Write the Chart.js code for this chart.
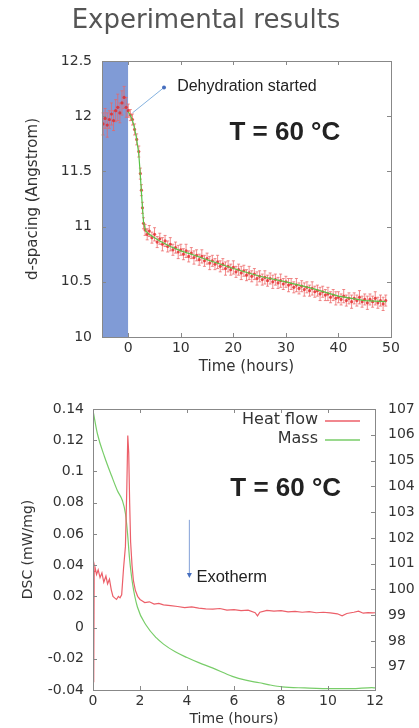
<!DOCTYPE html>
<html>
<head>
<meta charset="utf-8">
<script src="https://cdn.jsdelivr.net/npm/chart.js@4.4.1/dist/chart.umd.min.js"></script>
<style>
    body { margin: 0; background: #fff; }
    #topChart { position: absolute; left: 0; top: 0; }
    #bottomChart { position: absolute; left: 0; top: 385px; }
</style>
</head>
<body>
<canvas id="topChart" width="419" height="385"></canvas>
<canvas id="bottomChart" width="419" height="343"></canvas>
<script>
// top panel: d-spacing vs time
const dTimes = [-4.8, -4.4, -4.0, -3.6, -3.2, -2.8, -2.4, -2.0, -1.6, -1.2, -0.8, -0.4, 0.0,
    0.4, 0.8, 1.2, 1.6, 2.0, 2.3, 2.5, 2.7, 2.9, 3.2, 3.6, 4.0, 4.5, 5.0, 5.5, 6.0, 6.5, 7.0, 7.5, 8.0, 8.5, 9.0, 9.5,
    10.0, 10.5, 11.0, 11.5, 12.0, 12.5, 13.0, 13.5, 14.0, 14.5, 15.0, 15.5, 16.0, 16.5, 17.0, 17.5, 18.0, 18.5, 19.0, 19.5,
    20.0, 20.5, 21.0, 21.5, 22.0, 22.5, 23.0, 23.5, 24.0, 24.5, 25.0, 25.5, 26.0, 26.5, 27.0, 27.5, 28.0, 28.5, 29.0, 29.5,
    30.0, 30.5, 31.0, 31.5, 32.0, 32.5, 33.0, 33.5, 34.0, 34.5, 35.0, 35.5, 36.0, 36.5, 37.0, 37.5, 38.0, 38.5, 39.0, 39.5,
    40.0, 40.5, 41.0, 41.5, 42.0, 42.5, 43.0, 43.5, 44.0, 44.5, 45.0, 45.5, 46.0, 46.5, 47.0, 47.5, 48.0, 48.5, 49.0];
const dValues = [11.93, 11.98, 11.92, 11.97, 12.02, 11.96, 12.05, 12.08, 12.03, 12.12, 12.17, 12.08, 12.05,
    12.01, 11.97, 11.88, 11.79, 11.68, 11.48, 11.33, 11.17, 11.03, 10.97, 10.93, 10.96, 10.90, 10.93, 10.86, 10.89, 10.84, 10.87, 10.82, 10.84, 10.79, 10.81, 10.77,
    10.79, 10.75, 10.78, 10.73, 10.76, 10.72, 10.74, 10.70, 10.73, 10.69, 10.71, 10.67, 10.69, 10.66, 10.68, 10.64, 10.66, 10.62, 10.64, 10.61,
    10.63, 10.59, 10.61, 10.58, 10.60, 10.56, 10.58, 10.55, 10.57, 10.53, 10.55, 10.52, 10.54, 10.51, 10.53, 10.50, 10.52, 10.49, 10.51, 10.48,
    10.50, 10.47, 10.48, 10.45, 10.47, 10.44, 10.46, 10.43, 10.45, 10.42, 10.44, 10.41, 10.42, 10.39, 10.41, 10.38, 10.39, 10.36, 10.38, 10.35,
    10.36, 10.34, 10.37, 10.33, 10.35, 10.32, 10.35, 10.33, 10.36, 10.32, 10.34, 10.31, 10.34, 10.32, 10.35, 10.31, 10.33, 10.30, 10.33];
const dErrors = [0.10, 0.09, 0.11, 0.08, 0.10, 0.09, 0.10, 0.12, 0.09, 0.11, 0.10, 0.09, 0.06,
    0.05, 0.05, 0.05, 0.05, 0.05, 0.05, 0.05, 0.05, 0.05, 0.05, 0.05, 0.05, 0.05, 0.06, 0.05, 0.05, 0.06, 0.05, 0.05, 0.06, 0.05, 0.05, 0.06,
    0.05, 0.05, 0.06, 0.05, 0.05, 0.06, 0.05, 0.05, 0.06, 0.05, 0.05, 0.06, 0.05, 0.05, 0.06, 0.05, 0.05, 0.06, 0.05, 0.05,
    0.06, 0.05, 0.05, 0.06, 0.05, 0.05, 0.06, 0.05, 0.05, 0.06, 0.05, 0.05, 0.06, 0.05, 0.05, 0.06, 0.05, 0.05, 0.06, 0.05,
    0.05, 0.06, 0.05, 0.05, 0.06, 0.05, 0.05, 0.06, 0.05, 0.05, 0.06, 0.05, 0.05, 0.06, 0.05, 0.05, 0.06, 0.05, 0.05, 0.06,
    0.05, 0.05, 0.06, 0.05, 0.05, 0.06, 0.05, 0.05, 0.06, 0.05, 0.05, 0.06, 0.05, 0.05, 0.06, 0.05, 0.05, 0.06, 0.05];
const fitTimes = [0, 0.5, 1, 1.5, 2, 2.3, 2.6, 2.9, 3.3, 4, 5, 6, 8, 10, 12, 15, 20, 25, 30, 35, 40, 45, 49];
const fitValues = [12.04, 12.0, 11.93, 11.82, 11.66, 11.46, 11.24, 11.04, 10.96, 10.93, 10.9, 10.87, 10.82, 10.78, 10.75, 10.7, 10.62, 10.55, 10.5, 10.44, 10.37, 10.33, 10.32];
const shadeRange = [-5, 0];
const topXTicks = [0, 10, 20, 30, 40, 50];
const topYTicks = [10, 10.5, 11, 11.5, 12, 12.5];

// bottom panel: DSC heat flow and mass vs time
const hfTimes = [0.03, 0.05, 0.08, 0.15, 0.22, 0.3, 0.38, 0.46, 0.55, 0.62, 0.7, 0.78, 0.85, 0.92, 1.0, 1.08, 1.15, 1.22,
    1.3, 1.38, 1.44, 1.48, 1.52, 1.56, 1.6, 1.66, 1.72, 1.8, 1.9, 2.0, 2.1, 2.2, 2.4, 2.6, 2.8, 3.0, 3.3, 3.6, 3.9,
    4.2, 4.5, 4.8, 5.1, 5.4, 5.7, 6.0, 6.3, 6.6, 6.9, 7.0, 7.1, 7.4, 7.7, 8.0, 8.3, 8.6, 8.9, 9.2, 9.5, 9.8,
    10.1, 10.4, 10.6, 10.8, 11.1, 11.3, 11.5, 11.7, 11.9, 12];
const hfValues = [-0.035, 0.036, 0.039, 0.034, 0.037, 0.032, 0.035, 0.029, 0.033, 0.028, 0.031, 0.024, 0.020, 0.019, 0.018, 0.020, 0.019, 0.021,
    0.038, 0.052, 0.09, 0.123, 0.112, 0.08, 0.055, 0.04, 0.03, 0.024, 0.020, 0.018, 0.017, 0.016, 0.0165, 0.015, 0.0155, 0.0145, 0.014, 0.0135, 0.0128,
    0.0132, 0.0125, 0.012, 0.0118, 0.0122, 0.0112, 0.0115, 0.0108, 0.0112, 0.0095, 0.0075, 0.0098, 0.011, 0.0105, 0.0108, 0.010, 0.0104, 0.0098, 0.0102, 0.0095, 0.0098,
    0.0094, 0.0088, 0.0075, 0.009, 0.0098, 0.0105, 0.0092, 0.0096, 0.0094, 0.0095];
const massTimes = [0, 0.19, 0.49, 0.79, 1.04, 1.25, 1.38, 1.47, 1.55, 1.68, 1.89, 2.27, 2.7, 3.0, 3.5, 4.0, 4.5,
    5.08, 5.93, 6.5, 7.08, 7.5, 8.05, 9, 10.17, 11, 11.87, 12];
const massValues = [106.95, 106.03, 105.15, 104.41, 103.83, 103.45, 102.95, 102.17, 101.25, 100.24, 99.32, 98.6, 98.12, 97.88, 97.58, 97.36, 97.16,
    96.96, 96.63, 96.48, 96.38, 96.3, 96.22, 96.18, 96.15, 96.15, 96.19, 96.18];
const botXTicks = [0, 2, 4, 6, 8, 10, 12];
const dscTicks = [-0.04, -0.02, 0, 0.02, 0.04, 0.06, 0.08, 0.1, 0.12, 0.14];
const massTicks = [97, 98, 99, 100, 101, 102, 103, 104, 105, 106, 107];

const pts = (xs, ys) => xs.map((x, i) => ({ x, y: ys[i] }));
const fixedTicks = list => axis => { axis.ticks = list.map(v => ({ value: v })); };
const tickFont = { family: 'DejaVu Sans', size: 14 };
const tickColor = '#333';
const noGrid = { display: false, drawTicks: false };

// frame round the plot and short inward tick marks on every side
const framePlugin = {
    id: 'frame',
    afterDraw(chart) {
        const { ctx, chartArea: a, scales } = chart;
        ctx.save();
        ctx.strokeStyle = '#888';
        ctx.lineWidth = 1;
        ctx.strokeRect(a.left + 0.5, a.top + 0.5, a.right - a.left, a.bottom - a.top);
        const len = 4;
        ctx.beginPath();
        scales.x.ticks.forEach(t => {
            const px = Math.round(scales.x.getPixelForValue(t.value)) + 0.5;
            ctx.moveTo(px, a.bottom); ctx.lineTo(px, a.bottom - len);
            ctx.moveTo(px, a.top); ctx.lineTo(px, a.top + len);
        });
        scales.y.ticks.forEach(t => {
            const py = Math.round(scales.y.getPixelForValue(t.value)) + 0.5;
            ctx.moveTo(a.left, py); ctx.lineTo(a.left + len, py);
            if (!scales.y2) { ctx.moveTo(a.right, py); ctx.lineTo(a.right - len, py); }
        });
        if (scales.y2) {
            scales.y2.ticks.forEach(t => {
                const py = Math.round(scales.y2.getPixelForValue(t.value)) + 0.5;
                ctx.moveTo(a.right, py); ctx.lineTo(a.right - len, py);
            });
        }
        ctx.stroke();
        ctx.restore();
    }
};

// ---------- top chart ----------
const errorBarPlugin = {
    id: 'errorBars',
    beforeDatasetDraw(chart, args) {
        if (args.index !== 1) return;
        const { ctx, scales: { x, y } } = chart;
        ctx.save();
        ctx.strokeStyle = 'rgba(236,100,100,0.75)';
        ctx.lineWidth = 1;
        ctx.beginPath();
        dTimes.forEach((t, i) => {
            const px = x.getPixelForValue(t);
            const y1 = y.getPixelForValue(dValues[i] - dErrors[i]);
            const y2 = y.getPixelForValue(dValues[i] + dErrors[i]);
            ctx.moveTo(px, y1); ctx.lineTo(px, y2);
            ctx.moveTo(px - 1.5, y1); ctx.lineTo(px + 1.5, y1);
            ctx.moveTo(px - 1.5, y2); ctx.lineTo(px + 1.5, y2);
        });
        ctx.stroke();
        ctx.restore();
    }
};

const topNotes = {
    id: 'topNotes',
    afterDraw(chart) {
        const { ctx, scales: { x, y } } = chart;
        ctx.save();
        // page title
        ctx.fillStyle = '#555';
        ctx.font = '26px "DejaVu Sans", sans-serif';
        ctx.textAlign = 'center';
        ctx.textBaseline = 'middle';
        ctx.fillText('Experimental results', 206, 21);
        // "Dehydration started" pointer
        const dotX = x.getPixelForValue(6.8), dotY = y.getPixelForValue(12.26);
        ctx.strokeStyle = 'rgba(120,170,220,0.9)';
        ctx.lineWidth = 1;
        ctx.beginPath();
        ctx.moveTo(dotX, dotY);
        ctx.lineTo(x.getPixelForValue(0.8), y.getPixelForValue(12.03));
        ctx.stroke();
        ctx.fillStyle = 'rgb(70,110,190)';
        ctx.beginPath();
        ctx.arc(dotX, dotY, 2, 0, Math.PI * 2);
        ctx.fill();
        ctx.fillStyle = '#222';
        ctx.font = '16px "Liberation Sans", Arial, sans-serif';
        ctx.textAlign = 'left';
        ctx.fillText('Dehydration started', x.getPixelForValue(9.3), dotY - 1);
        // temperature
        ctx.font = 'bold 26px "Liberation Sans", Arial, sans-serif';
        ctx.textAlign = 'center';
        ctx.fillText('T = 60 °C', x.getPixelForValue(29.8), y.getPixelForValue(11.85));
        ctx.restore();
    }
};

new Chart(document.getElementById('topChart'), {
    type: 'line',
    data: {
        datasets: [
            {
                label: 'shade',
                data: pts(shadeRange, [12.5, 12.5]),
                fill: 'start',
                backgroundColor: 'rgb(128,155,214)',
                borderWidth: 0,
                pointRadius: 0,
                order: 3
            },
            {
                label: 'd-spacing',
                data: pts(dTimes, dValues),
                showLine: false,
                pointRadius: 1.6,
                pointBorderWidth: 0,
                pointBackgroundColor: 'rgba(228,40,40,0.8)',
                order: 2
            },
            {
                label: 'fit',
                data: pts(fitTimes, fitValues),
                borderColor: 'rgb(90,195,70)',
                borderWidth: 1.2,
                pointRadius: 0,
                order: 1
            }
        ]
    },
    options: {
        responsive: false,
        animation: false,
        layout: { padding: { left: 0, right: 28, top: 61, bottom: 0 } },
        plugins: {
            legend: { display: false },
            tooltip: { enabled: false }
        },
        scales: {
            x: {
                type: 'linear',
                min: -5,
                max: 50,
                afterBuildTicks: fixedTicks(topXTicks),
                afterFit(s) { s.height = 48; },
                grid: noGrid,
                border: { display: false },
                ticks: { font: tickFont, color: tickColor, padding: 3, maxRotation: 0, callback: v => String(v) },
                title: { display: true, text: 'Time (hours)', color: tickColor, font: { family: 'DejaVu Sans', size: 15 }, padding: { top: 0, bottom: 9 } }
            },
            y: {
                min: 10,
                max: 12.5,
                afterBuildTicks: fixedTicks(topYTicks),
                afterFit(s) { s.width = 102; },
                grid: noGrid,
                border: { display: false },
                ticks: { font: tickFont, color: tickColor, padding: 10, callback: v => String(v) },
                title: { display: true, text: 'd-spacing (Angstrom)', color: tickColor, font: { family: 'DejaVu Sans', size: 15 }, padding: { top: 24, bottom: 0 } }
            }
        }
    },
    plugins: [errorBarPlugin, framePlugin, topNotes]
});

// ---------- bottom chart ----------
const bottomNotes = {
    id: 'bottomNotes',
    afterDraw(chart) {
        const { ctx, chartArea: a, scales: { x, y } } = chart;
        ctx.save();
        // legend in the top right corner
        ctx.font = '16px "DejaVu Sans", sans-serif';
        ctx.textAlign = 'right';
        ctx.textBaseline = 'middle';
        chart.data.datasets.forEach((ds, i) => {
            const ly = a.top + 11 + i * 19;
            ctx.fillStyle = '#333';
            ctx.fillText(ds.label, a.right - 57, ly);
            ctx.strokeStyle = ds.borderColor;
            ctx.lineWidth = 1.5;
            ctx.beginPath();
            ctx.moveTo(a.right - 50, ly + 1);
            ctx.lineTo(a.right - 15, ly + 1);
            ctx.stroke();
        });
        // Exotherm arrow
        const ax = x.getPixelForValue(4.1);
        const yTop = y.getPixelForValue(0.069), yEnd = y.getPixelForValue(0.033);
        ctx.strokeStyle = 'rgb(130,160,215)';
        ctx.lineWidth = 1;
        ctx.beginPath();
        ctx.moveTo(ax, yTop);
        ctx.lineTo(ax, yEnd);
        ctx.stroke();
        ctx.fillStyle = 'rgb(70,110,190)';
        ctx.beginPath();
        ctx.moveTo(ax - 2.5, yEnd - 3);
        ctx.lineTo(ax + 2.5, yEnd - 3);
        ctx.lineTo(ax, yEnd + 2);
        ctx.closePath();
        ctx.fill();
        ctx.fillStyle = '#222';
        ctx.font = '16.5px "Liberation Sans", Arial, sans-serif';
        ctx.textAlign = 'left';
        ctx.fillText('Exotherm', x.getPixelForValue(4.4), y.getPixelForValue(0.032));
        // temperature
        ctx.font = 'bold 26px "Liberation Sans", Arial, sans-serif';
        ctx.textAlign = 'center';
        ctx.fillText('T = 60 °C', x.getPixelForValue(8.2), y.getPixelForValue(0.089));
        ctx.restore();
    }
};

new Chart(document.getElementById('bottomChart'), {
    type: 'line',
    data: {
        datasets: [
            {
                label: 'Heat flow',
                data: pts(hfTimes, hfValues),
                borderColor: 'rgb(236,95,105)',
                borderWidth: 1.2,
                pointRadius: 0,
                yAxisID: 'y'
            },
            {
                label: 'Mass',
                data: pts(massTimes, massValues),
                borderColor: 'rgb(120,205,105)',
                borderWidth: 1.2,
                pointRadius: 0,
                cubicInterpolationMode: 'monotone',
                yAxisID: 'y2'
            }
        ]
    },
    options: {
        responsive: false,
        animation: false,
        layout: { padding: { left: 0, right: 0, top: 24, bottom: 0 } },
        plugins: {
            legend: { display: false },
            tooltip: { enabled: false }
        },
        scales: {
            x: {
                type: 'linear',
                min: 0,
                max: 12,
                afterBuildTicks: fixedTicks(botXTicks),
                afterFit(s) { s.height = 38; },
                grid: noGrid,
                border: { display: false },
                ticks: { font: tickFont, color: tickColor, padding: 3, maxRotation: 0, callback: v => String(v) },
                title: { display: true, text: 'Time (hours)', color: tickColor, font: { family: 'DejaVu Sans', size: 14 }, padding: { top: 0, bottom: 0 } }
            },
            y: {
                position: 'left',
                min: -0.04,
                max: 0.14,
                afterBuildTicks: fixedTicks(dscTicks),
                afterFit(s) { s.width = 93; },
                grid: noGrid,
                border: { display: false },
                ticks: { font: tickFont, color: tickColor, padding: 9, callback: v => String(v) },
                title: { display: true, text: 'DSC (mW/mg)', color: tickColor, font: { family: 'DejaVu Sans', size: 14 }, padding: { top: 20, bottom: 0 } }
            },
            y2: {
                position: 'right',
                min: 96.1,
                max: 107,
                afterBuildTicks: fixedTicks(massTicks),
                afterFit(s) { s.width = 44; },
                grid: noGrid,
                border: { display: false },
                ticks: { font: tickFont, color: tickColor, padding: 13, callback: v => String(v) }
            }
        }
    },
    plugins: [framePlugin, bottomNotes]
});
</script>
</body>
</html>
